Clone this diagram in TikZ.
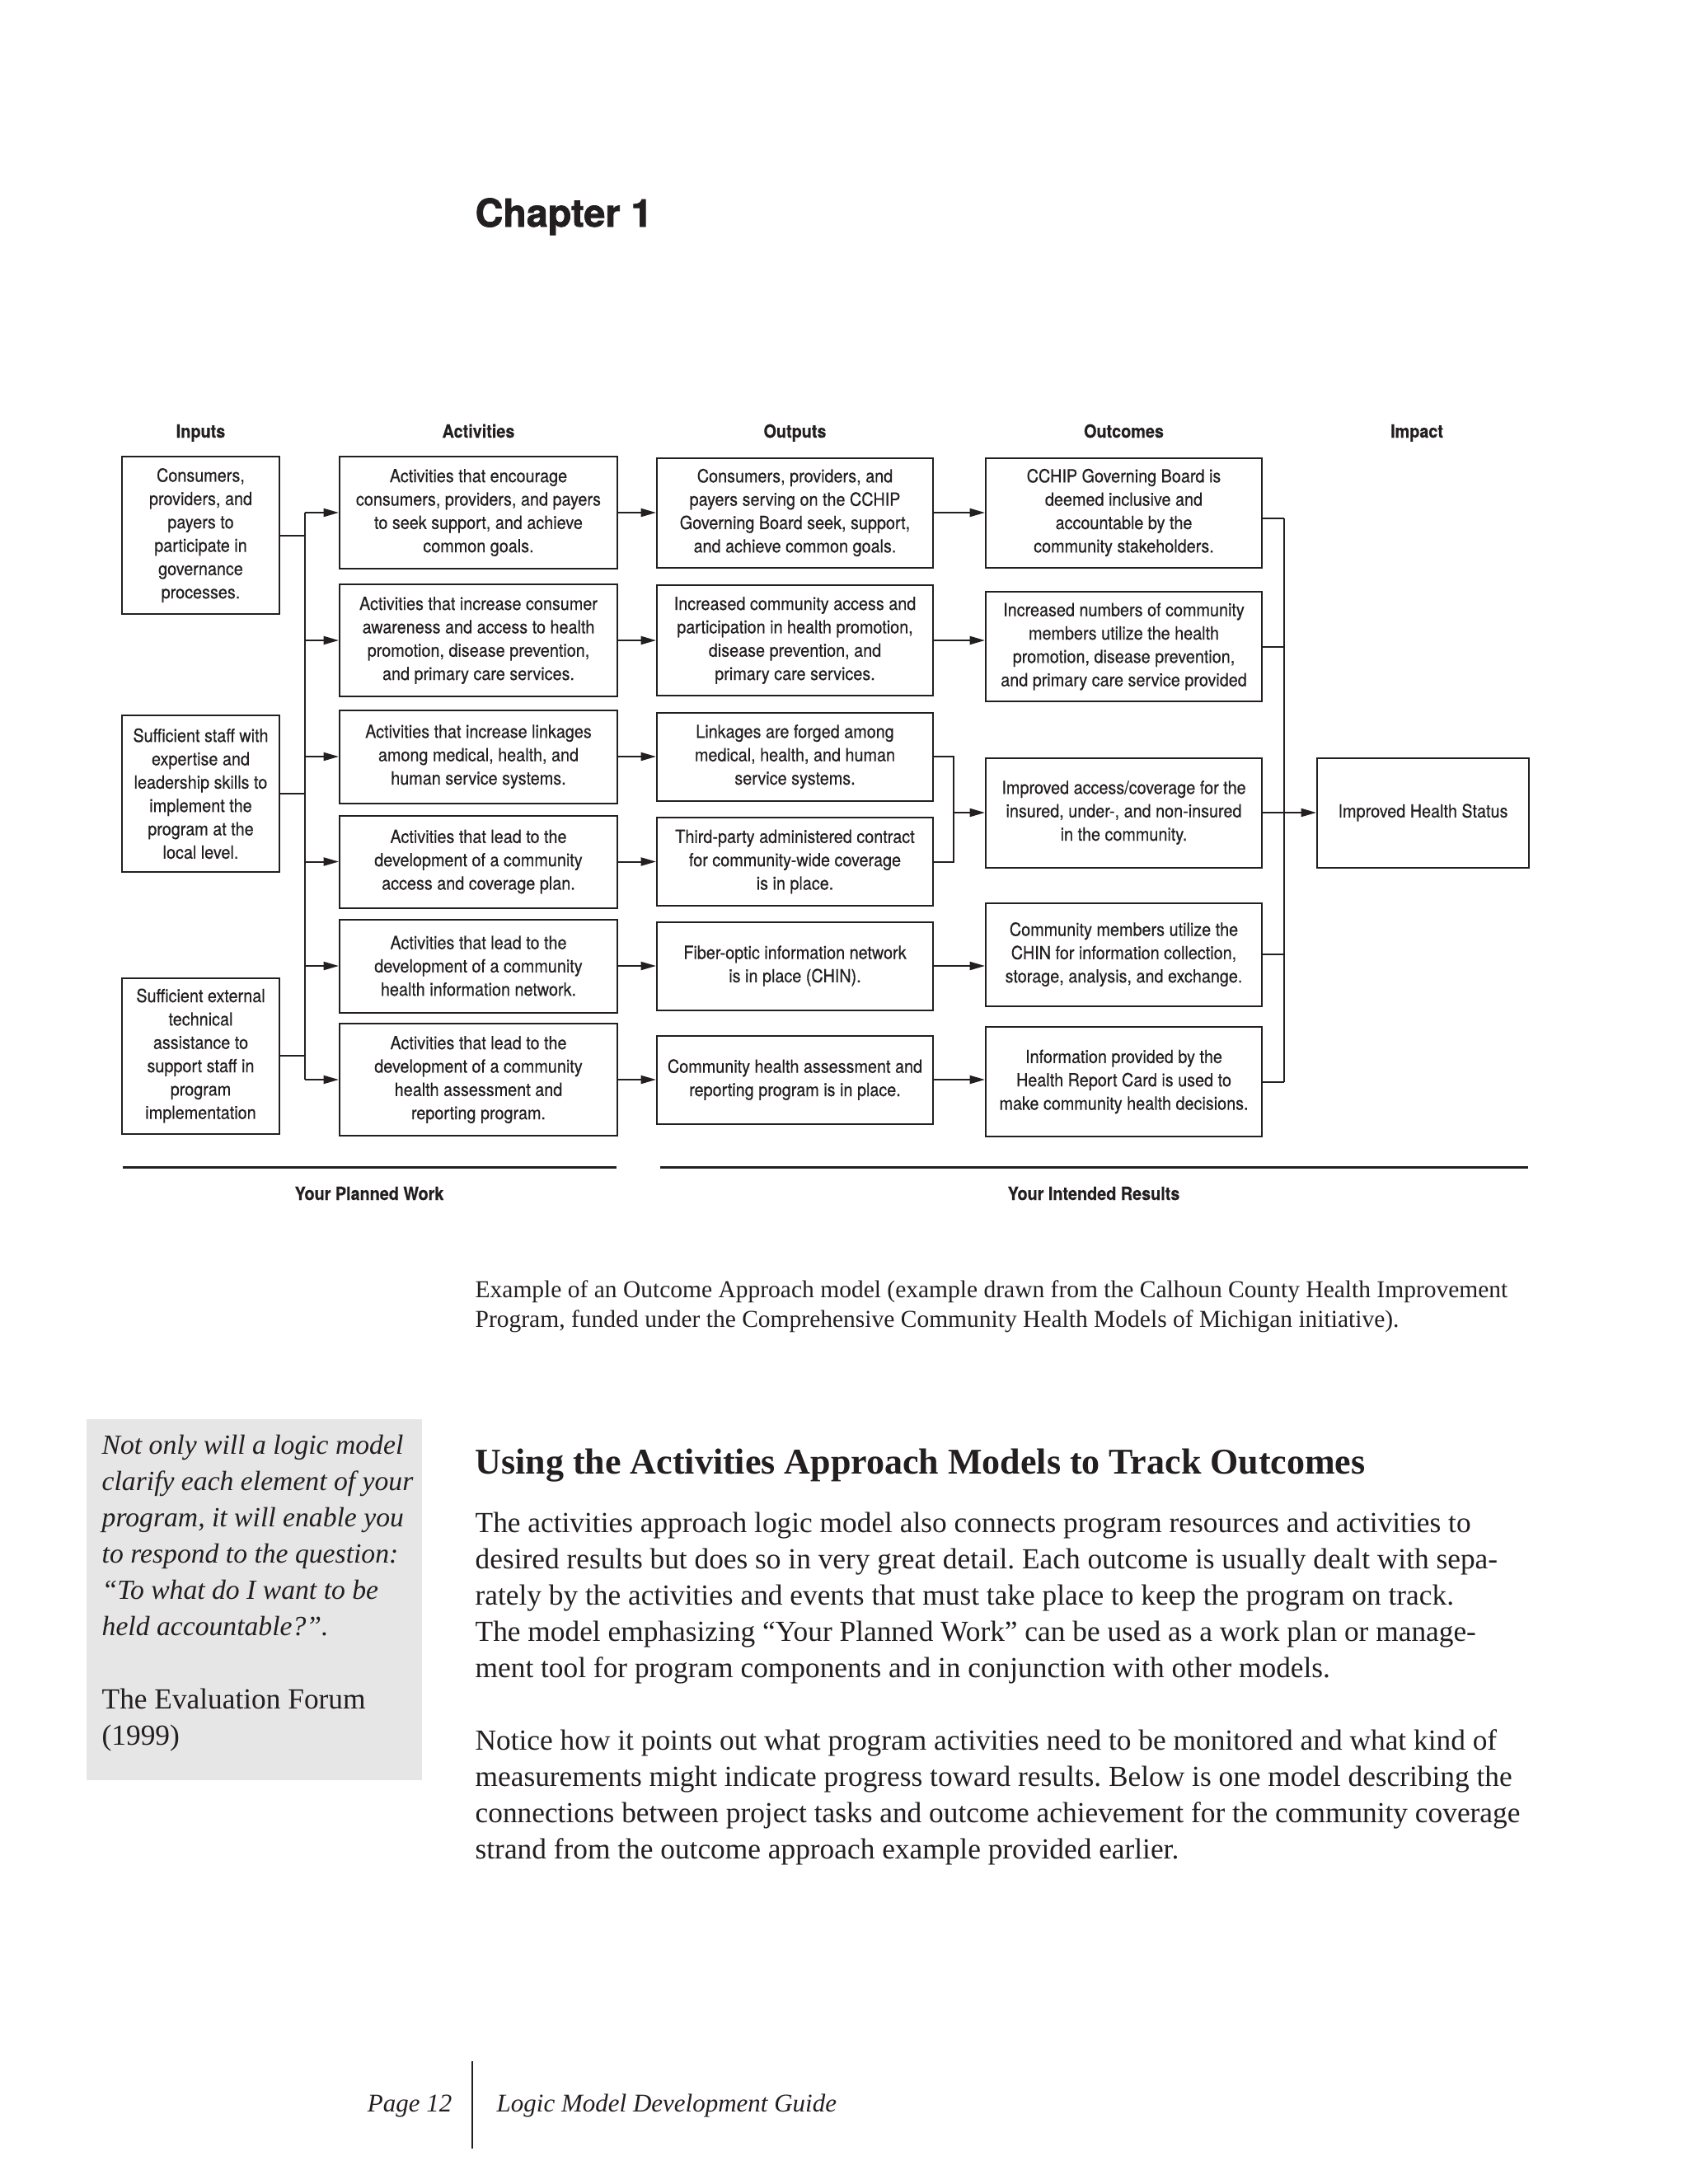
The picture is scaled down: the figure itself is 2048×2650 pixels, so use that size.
\documentclass[tikz,border=0pt]{standalone}
\usepackage{fontspec}
\setmainfont{Liberation Serif}
\newfontfamily\cond[FakeStretch=0.9,FakeBold=0.4]{TeX Gyre Heros}
\newfontfamily\heavy[FakeBold=1.6]{TeX Gyre Heros}
\usetikzlibrary{arrows.meta,positioning,calc}
\definecolor{ink}{RGB}{35,31,32}
\definecolor{sidegray}{RGB}{230,230,230}
\newcommand\pxu{0.010542cm}
\frenchspacing

\begin{document}
\begin{tikzpicture}[x=\pxu,y=-\pxu,
    every node/.style={font=\cond\fontsize{6.6}{8.5}\selectfont,text=ink},
    box/.style 2 args={draw=ink,line width=0.6pt,minimum width=#1*\pxu,
                minimum height=#2*\pxu,align=center,inner sep=1pt},
    inbox/.style={box={191}{#1}},
    actbox/.style={box={337}{#1}},
    outbox/.style={box={335}{#1}},
    resbox/.style={box={335}{#1}},
    head/.style={font=\cond\bfseries\fontsize{6.6}{8}\selectfont,anchor=base},
    wire/.style={line width=0.6pt,ink},
    arr/.style={-{Triangle[length=5.5pt,width=3pt]},line width=0.6pt,ink},
    rule/.style={line width=0.9pt,ink},
    page/.style={font=\fontsize{10.6}{13.2}\selectfont,align=left,inner sep=0pt}]

  \useasboundingbox (0,0) rectangle (2048,2650);

  % page head
  \node[font=\heavy\bfseries\fontsize{14}{16}\selectfont,anchor=base west,
        inner sep=0pt] (chap) at (576,275) {Chapter 1};

  % column heads
  \node[head] (hin)  at (243.5,531)  {Inputs};
  \node[head] (hact) at (580.5,531)  {Activities};
  \node[head] (hout) at (964.5,531)  {Outputs};
  \node[head] (hres) at (1363.5,531) {Outcomes};
  \node[head] (himp) at (1719,531)   {Impact};

  % inputs
  \node[inbox=191] (in1) at (243.5,649.5)
        {Consumers,\\providers, and\\payers to\\participate in\\governance\\processes.};
  \node[inbox=190] (in2) at (243.5,963)
        {Sufficient staff with\\expertise and\\leadership skills to\\implement the\\program at the\\local level.};
  \node[inbox=189] (in3) at (243.5,1281)
        {Sufficient external\\technical\\assistance to\\support staff in\\program\\implementation};

  % activities
  \node[actbox=136] (a1) at (580.5,622)
        {Activities that encourage\\consumers, providers, and payers\\to seek support, and achieve\\common goals.};
  \node[actbox=136] (a2) at (580.5,777)
        {Activities that increase consumer\\awareness and access to health\\promotion, disease prevention,\\and primary care services.};
  \node[actbox=113] (a3) at (580.5,918)
        {Activities that increase linkages\\among medical, health, and\\human service systems.};
  \node[actbox=112] (a4) at (580.5,1045.5)
        {Activities that lead to the\\development of a community\\access and coverage plan.};
  \node[actbox=113] (a5) at (580.5,1172)
        {Activities that lead to the\\development of a community\\health information network.};
  \node[actbox=136] (a6) at (580.5,1310)
        {Activities that lead to the\\development of a community\\health assessment and\\reporting program.};

  % outputs
  \node[outbox=133] (o1) at (964.5,622)
        {Consumers, providers, and\\payers serving on the CCHIP\\Governing Board seek, support,\\and achieve common goals.};
  \node[outbox=134] (o2) at (964.5,777)
        {Increased community access and\\participation in health promotion,\\disease prevention, and\\primary care services.};
  \node[outbox=107] (o3) at (964.5,918)
        {Linkages are forged among\\medical, health, and human\\service systems.};
  \node[outbox=107] (o4) at (964.5,1045.5)
        {Third-party administered contract\\for community-wide coverage\\is in place.};
  \node[outbox=107] (o5) at (964.5,1172)
        {Fiber-optic information network\\is in place (CHIN).};
  \node[outbox=107] (o6) at (964.5,1310)
        {Community health assessment and\\reporting program is in place.};

  % outcomes
  \node[resbox=133] (c1) at (1363.5,622)
        {CCHIP Governing Board is\\deemed inclusive and\\accountable by the\\community stakeholders.};
  \node[resbox=133] (c2) at (1363.5,784.5)
        {Increased numbers of community\\members utilize the health\\promotion, disease prevention,\\and primary care service provided};
  \node[resbox=133] (c3) at (1363.5,986)
        {Improved access/coverage for the\\insured, under-, and non-insured\\in the community.};
  \node[resbox=125] (c4) at (1363.5,1158)
        {Community members utilize the\\CHIN for information collection,\\storage, analysis, and exchange.};
  \node[resbox=133] (c5) at (1363.5,1312.5)
        {Information provided by the\\Health Report Card is used to\\make community health decisions.};

  % impact
  \node[box={257}{133}] (imp) at (1726.5,986) {Improved Health Status};

  % connectors
  \coordinate (ibus) at (370,0);
  \coordinate (mrg)  at (1157,0);
  \coordinate (obus) at (1558,0);

  \foreach \n in {in1,in2,in3}
    \draw[wire] (\n.east) -- (\n.east -| ibus);
  \draw[wire] (a1.west -| ibus) -- (a6.west -| ibus);
  \foreach \i in {1,...,6}
    \draw[arr] (a\i.west -| ibus) -- (a\i.west);
  \foreach \i in {1,...,6}
    \draw[arr] (a\i) -- (o\i);

  \draw[arr] (o1) -- (c1);
  \draw[arr] (o2.east) -- (o2.east -| c2.west);
  \draw[wire] (o3.east) -- (o3.east -| mrg) -- (o4.east -| mrg) -- (o4.east);
  \draw[arr] (c3.west -| mrg) -- (c3.west);
  \draw[arr] (o5.east) -- (o5.east -| c4.west);
  \draw[arr] (o6.east) -- (o6.east -| c5.west);

  \draw[wire] ([yshift=-7*\pxu]c1.east) -- ([yshift=-7*\pxu]c1.east -| obus);
  \foreach \n in {c2,c4,c5}
    \draw[wire] (\n.east) -- (\n.east -| obus);
  \draw[wire] ([yshift=-7*\pxu]c1.east -| obus) -- (c5.east -| obus);
  \draw[arr] (c3) -- (imp);

  % bottom rules
  \coordinate (pl) at (149,1416);  \coordinate (pr) at (748,1416);
  \coordinate (rl) at (801,1416);  \coordinate (rr) at (1854,1416);
  \draw[rule] (pl) -- (pr);
  \draw[rule] (rl) -- (rr);
  \node[head] (plan) at (448,1456)  {Your Planned Work};
  \node[head] (res)  at (1327,1456) {Your Intended Results};

  % caption
  \node[page,font=\fontsize{8.85}{10.8}\selectfont,anchor=north west] (cap) at (576,1553)
    {Example of an Outcome Approach model (example drawn from the Calhoun County Health Improvement\\
     Program, funded under the Comprehensive Community Health Models of Michigan initiative).};

  % side note
  \fill[sidegray] (105,1722) rectangle (512,2160);
  \node[page,font=\itshape\fontsize{10.1}{13.2}\selectfont,anchor=north west] (quote) at (123,1740)
    {Not only will a logic model\\clarify each element of your\\program, it will enable you\\
     to respond to the question:\\“To what do I want to be\\held accountable?”.};
  \node[page,anchor=north west] (src) at (123,2048) {The Evaluation Forum\\(1999)};

  % section text
  \node[page,font=\bfseries\fontsize{13.2}{16}\selectfont,anchor=base west] (title) at (576,1788)
    {Using the Activities Approach Models to Track Outcomes};
  \node[page,anchor=north west] (para1) at (576,1834)
    {The activities approach logic model also connects program resources and activities to\\
     desired results but does so in very great detail. Each outcome is usually dealt with sepa-\\
     rately by the activities and events that must take place to keep the program on track.\\
     The model emphasizing “Your Planned Work” can be used as a work plan or manage-\\
     ment tool for program components and in conjunction with other models.};
  \node[page,anchor=north west] (para2) at (576,2098)
    {Notice how it points out what program activities need to be monitored and what kind of\\
     measurements might indicate progress toward results. Below is one model describing the\\
     connections between project tasks and outcome achievement for the community coverage\\
     strand from the outcome approach example provided earlier.};

  % footer
  \node[page,font=\itshape\fontsize{9.3}{12}\selectfont,anchor=base east] (pg) at (549,2562) {Page 12};
  \node[page,font=\itshape\fontsize{9.3}{12}\selectfont,anchor=base west] (guide) at (602,2562)
    {Logic Model Development Guide};
  \coordinate (ft) at (573,2501); \coordinate (fb) at (573,2607);
  \draw[wire] (ft) -- (fb);
\end{tikzpicture}
\end{document}
